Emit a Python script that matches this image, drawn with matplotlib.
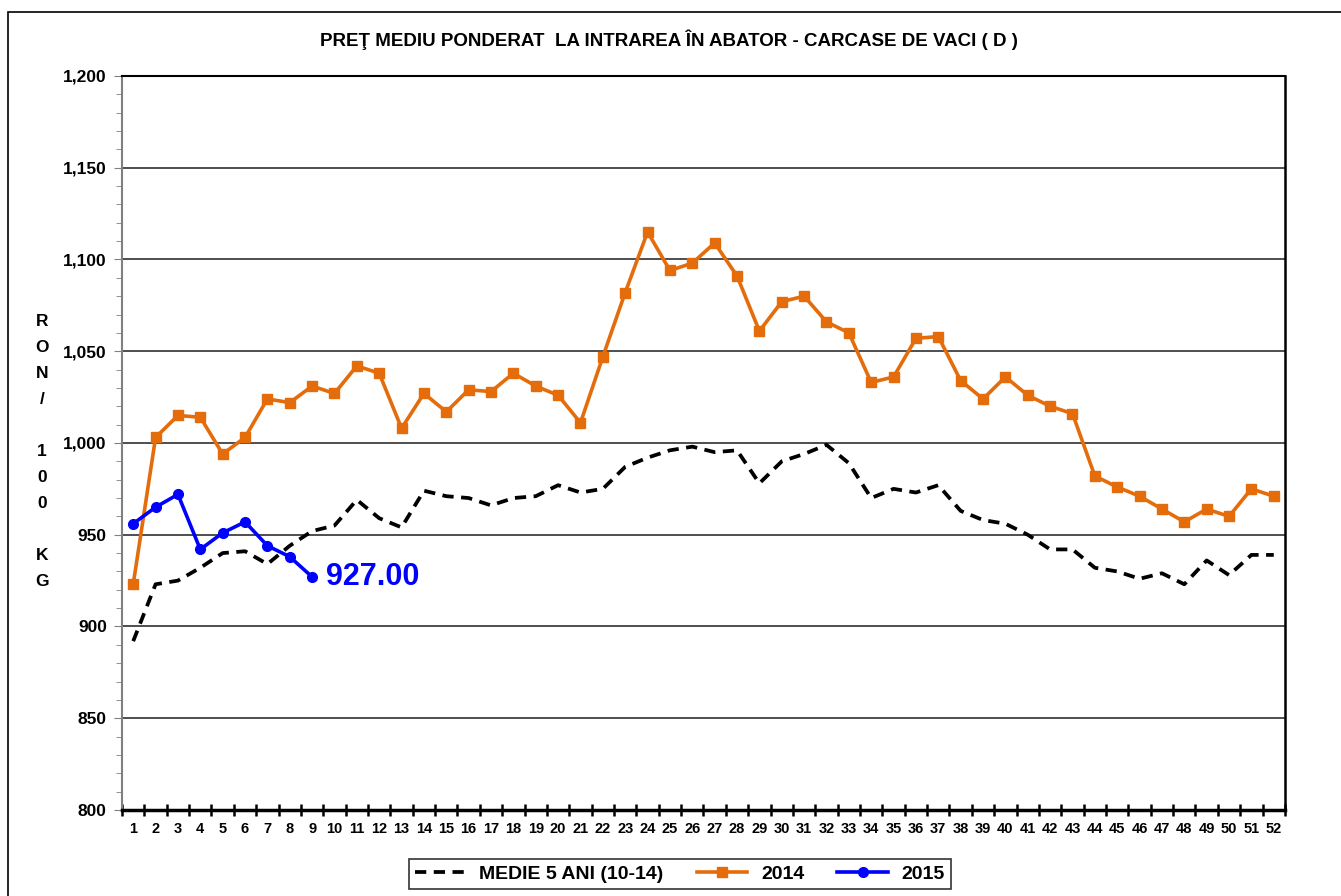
import numpy as np
import matplotlib
matplotlib.use("Agg")
import matplotlib.pyplot as plt
from matplotlib.ticker import MultipleLocator, FuncFormatter
from matplotlib.patches import Rectangle

plt.rcParams['font.family'] = ['Liberation Sans', 'DejaVu Sans']
plt.rcParams['font.weight'] = 'bold'

# --- data (RON / 100 kg, week 1..52) ---
weeks = np.arange(1, 53)
medie_5_ani = [892, 923, 925, 932, 940, 941, 934, 944, 952, 955,
               969, 959, 954, 974, 971, 970, 966, 970, 971, 977,
               973, 975, 987, 992, 996, 998, 995, 996, 978, 990,
               994, 999, 989, 970, 975, 973, 977, 963, 958, 956,
               950, 942, 942, 932, 930, 926, 929, 923, 936, 928,
               939, 939]
pret_2014 = [923, 1003, 1015, 1014, 994, 1003, 1024, 1022, 1031, 1027,
             1042, 1038, 1008, 1027, 1017, 1029, 1028, 1038, 1031, 1026,
             1011, 1047, 1082, 1115, 1094, 1098, 1109, 1091, 1061, 1077,
             1080, 1066, 1060, 1033, 1036, 1057, 1058, 1034, 1024, 1036,
             1026, 1020, 1016, 982, 976, 971, 964, 957, 964, 960,
             975, 971]
pret_2015 = [956, 965, 972, 942, 951, 957, 944, 938, 927]
last_label = "927.00"

title = "PREŢ MEDIU PONDERAT  LA INTRAREA ÎN ABATOR - CARCASE DE VACI ( D )"
ylabel_chars = list("RON/") + [""] + list("100") + [""] + list("KG")
series_names = ["MEDIE 5 ANI (10-14)", "2014", "2015"]

fig = plt.figure(figsize=(13.41, 8.96), dpi=100)
ax = fig.add_axes([0.091, 0.096, 0.8672, 0.8192])

# outer chart frame (only top/left visible in the crop)
fig.patches.append(Rectangle((8 / 1341, -0.05), 1.1, 1 - 12 / 896 + 0.05,
                             transform=fig.transFigure, fill=False,
                             edgecolor='black', lw=1.2))

ax.plot(weeks, medie_5_ani, color='black', lw=2.7, linestyle=(0, (3, 2)),
        label=series_names[0])
ax.plot(weeks, pret_2014, color='#E46C0A', lw=2.6, marker='s', markersize=7.5,
        label=series_names[1])
w15 = weeks[:len(pret_2015)]
ax.plot(w15, pret_2015, color='#0000FF', lw=2.6, marker='o', markersize=7,
        label=series_names[2])
ax.annotate(last_label, (w15[-1], pret_2015[-1]), xytext=(10, 0),
            textcoords='offset points', color='#0000FF', fontsize=22,
            fontweight='bold', va='center', ha='left')

ax.set_xlim(0.5, 52.5)
ax.set_ylim(800, 1200)

# x: tick marks between categories, labels at categories
ax.set_xticks(np.arange(0.5, 53, 1))
ax.set_xticklabels([])
ax.set_xticks(weeks, minor=True)
ax.set_xticklabels([str(w) for w in weeks], minor=True)
ax.tick_params(axis='x', which='major', direction='inout', length=8, width=1.8)
ax.tick_params(axis='x', which='minor', length=0, pad=9, labelsize=10.5)

# y
ax.yaxis.set_major_locator(MultipleLocator(50))
ax.yaxis.set_minor_locator(MultipleLocator(10))
ax.yaxis.set_major_formatter(FuncFormatter(lambda v, p: f"{int(v):,}"))
ax.tick_params(axis='y', which='major', direction='out', length=6,
               color='#808080', labelsize=12.5, pad=5)
ax.tick_params(axis='y', which='minor', direction='out', length=4,
               color='#808080')
ax.grid(axis='y', which='major', color='#404040', lw=1.3)
ax.set_axisbelow(True)

ax.spines['left'].set_color('#808080')
ax.spines['left'].set_linewidth(1.5)
ax.spines['bottom'].set_linewidth(2.5)
ax.spines['top'].set_linewidth(1.5)
ax.spines['right'].set_linewidth(1.8)

fig.text(0.499, 1 - 40 / 896, title, ha='center', va='center', fontsize=13.5,
         fontweight='bold')

# stacked y label
for i, ch in enumerate(ylabel_chars):
    fig.text(42 / 1341, 1 - (321 + i * 26) / 896, ch, ha='center',
             va='center', fontsize=12.5, fontweight='bold')

leg = fig.legend(loc='center', bbox_to_anchor=(680 / 1341, 1 - 874 / 896),
                 ncol=3, frameon=True, fancybox=False, edgecolor='black',
                 fontsize=14, handlelength=2.6, columnspacing=1.7,
                 borderpad=0.3, handletextpad=0.7)
leg.get_frame().set_linewidth(1.2)
for t in leg.get_texts():
    t.set_fontweight('bold')

fig.savefig("out.png", dpi=100)
